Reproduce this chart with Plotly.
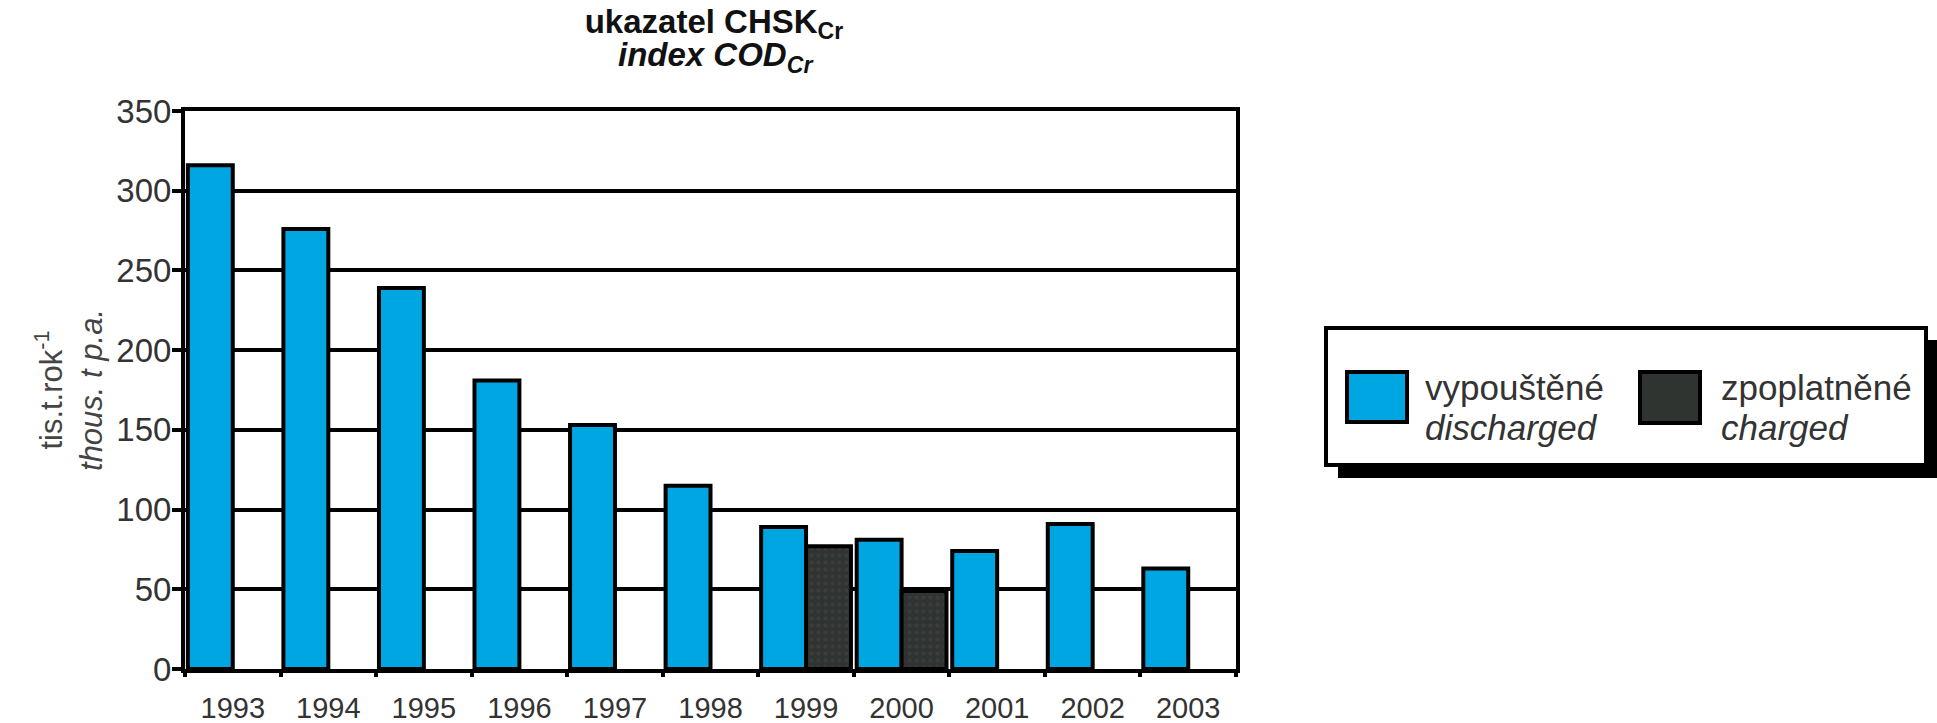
import plotly.graph_objects as go

# ---- data ----
years = ["1993", "1994", "1995", "1996", "1997", "1998", "1999", "2000", "2001", "2002", "2003"]
discharged = [316, 276, 239, 181, 153, 115, 89, 81, 74, 91, 63]
charged = [None, None, None, None, None, None, 77, 49, None, None, None]
name_discharged = ("vypouštěné", "discharged")
name_charged = ("zpoplatněné", "charged")
y_ticks = [0, 50, 100, 150, 200, 250, 300, 350]
title_line1 = "ukazatel CHSK<sub>Cr</sub>"
title_line2 = "index COD<sub>Cr</sub>"
y_title = "tis.t.rok<sup>-1</sup><br><i>thous. t p.a.</i>"

BLUE = "#00A6E2"
DARK = "#2F3431"
TXT = "#333333"
FONT = "Liberation Sans, Arial, sans-serif"

# page / plot-area geometry in pixels
W, H = 1937, 723
L, T, PW, PH = 185, 111, 1051, 558
R, B = W - L - PW, H - T - PH


def px(x):
    return (x - L) / PW


def py(y):
    return (T + PH - y) / PH


fig = go.Figure()
fig.add_trace(go.Bar(
    x=years, y=discharged, name=name_discharged[0],
    marker=dict(color=BLUE, line=dict(color="black", width=4)),
    showlegend=False,
))
fig.add_trace(go.Bar(
    x=years, y=charged, name=name_charged[0],
    marker=dict(color=DARK, line=dict(color="black", width=4),
                pattern=dict(shape=".", fgcolor="#4b3f4d", bgcolor=DARK,
                             size=7, solidity=0.25)),
    showlegend=False,
))

shapes = []
annotations = []

# legend: shadow, box, swatches, texts
shapes.append(dict(type="rect", xref="paper", yref="paper",
                   x0=px(1338), x1=px(1950), y0=py(478), y1=py(340),
                   fillcolor="black", line=dict(width=0), layer="above"))
shapes.append(dict(type="rect", xref="paper", yref="paper",
                   x0=px(1326), x1=px(1926), y0=py(465), y1=py(328),
                   fillcolor="white", line=dict(color="black", width=4), layer="above"))
shapes.append(dict(type="rect", xref="paper", yref="paper",
                   x0=px(1347), x1=px(1407), y0=py(422), y1=py(372),
                   fillcolor=BLUE, line=dict(color="black", width=4), layer="above"))
shapes.append(dict(type="rect", xref="paper", yref="paper",
                   x0=px(1640), x1=px(1700), y0=py(423), y1=py(372),
                   fillcolor=DARK, line=dict(color="black", width=4), layer="above"))

for (l1, l2), xl in ((name_discharged, 1423), (name_charged, 1719)):
    annotations.append(dict(xref="paper", yref="paper", x=px(xl), y=py(387),
                            xanchor="left", yanchor="middle", showarrow=False,
                            text=l1, font=dict(family=FONT, size=35, color=TXT)))
    annotations.append(dict(xref="paper", yref="paper", x=px(xl), y=py(427),
                            xanchor="left", yanchor="middle", showarrow=False,
                            text="<i>" + l2 + "</i>", font=dict(family=FONT, size=35, color=TXT)))

# second title line
annotations.append(dict(xref="paper", yref="paper", x=px(716), y=py(57),
                        xanchor="center", yanchor="middle", showarrow=False,
                        text="<b><i>" + title_line2 + "</i></b>",
                        font=dict(family=FONT, size=33, color="#111")))

fig.update_layout(
    width=W, height=H,
    margin=dict(l=L, r=R, t=T, b=B, autoexpand=False),
    paper_bgcolor="white", plot_bgcolor="white",
    barmode="group", bargap=0.06, bargroupgap=0,
    font=dict(family=FONT, size=30, color=TXT),
    title=dict(
        text="<b>" + title_line1 + "</b>",
        x=714 / W, xanchor="center", xref="container",
        y=1 - 21 / H, yanchor="middle", yref="container",
        font=dict(family=FONT, size=33, color="#111"),
    ),
    xaxis=dict(
        type="category", tickson="boundaries", ticks="outside", ticklen=4,
        tickwidth=4, tickcolor="black", showline=True, linewidth=4,
        linecolor="black", mirror=True, showgrid=False, zeroline=False,
        tickfont=dict(family=FONT, size=29, color=TXT), ticklabelstandoff=10,
    ),
    yaxis=dict(
        range=[0, 350], tickvals=y_ticks, ticks="outside", ticklen=9,
        tickwidth=4, tickcolor="black", showline=True, linewidth=4,
        linecolor="black", mirror=True, showgrid=True, gridcolor="black",
        gridwidth=4, zeroline=False, ticklabelstandoff=-6,
        tickfont=dict(family=FONT, size=33, color=TXT),
        title=dict(text=y_title,
                   font=dict(family=FONT, size=31, color="#444"), standoff=5),
    ),
    shapes=shapes, annotations=annotations,
)

fig.write_html("out.html", config={"displayModeBar": False},
               post_script="document.body.style.margin='0';")
